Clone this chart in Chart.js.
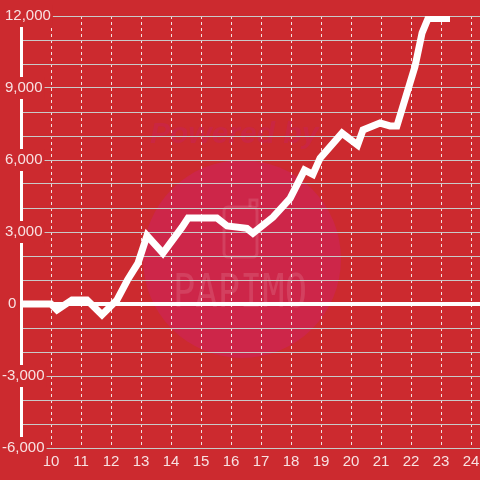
<!DOCTYPE html>
<html>
<head>
<meta charset="utf-8">
<script src="https://cdn.jsdelivr.net/npm/chart.js@4/dist/chart.umd.min.js"></script>
<style>
html,body{margin:0;padding:0;background:#cc2a2f;}
#wrap{width:480px;height:480px;}
</style>
</head>
<body>
<div id="wrap"><canvas id="c" width="480" height="480"></canvas></div>
<script>
// Data
const hours  = [9, 10, 10.2, 10.7, 11.2, 11.7, 12.2, 12.55, 12.9, 13.2, 13.73, 14.37, 14.57, 15.53, 15.87, 16.53, 16.73, 17.4, 17.97, 18.45, 18.73, 18.97, 19.7, 20.22, 20.4, 20.97, 21.3, 21.53, 22.13, 22.37, 22.57, 23.3];
const profit = [0, 0, -250, 170, 170, -450, 170, 1000, 1700, 2850, 2120, 3200, 3580, 3580, 3250, 3150, 2950, 3620, 4400, 5580, 5400, 6080, 7120, 6620, 7250, 7540, 7420, 7420, 9880, 11300, 11900, 11900];
const xTicks = [10, 11, 12, 13, 14, 15, 16, 17, 18, 19, 20, 21, 22, 23, 24];
const yLabelStep = 3000;

const BG = '#cc2a2f';
const LABEL = 'rgba(255,255,255,0.86)';
const FONT = '"Liberation Sans", Arial, sans-serif';

const bgPlugin = {
  id: 'bg',
  beforeDraw(chart) {
    const ctx = chart.ctx;
    ctx.save();
    ctx.fillStyle = BG;
    ctx.fillRect(0, 0, chart.width, chart.height);
    // watermark
    ctx.fillStyle = 'rgba(205,38,78,0.85)';
    ctx.beginPath();
    ctx.arc(242, 259, 99, 0, Math.PI * 2);
    ctx.fill();
    ctx.font = 'italic bold 30px ' + FONT;
    ctx.fillStyle = 'rgba(200,36,80,0.6)';
    ctx.textBaseline = 'alphabetic';
    ctx.fillText('Powered by', 150, 143);
    ctx.strokeStyle = 'rgba(255,255,255,0.12)';
    ctx.lineWidth = 3;
    ctx.beginPath();
    ctx.roundRect(224, 207, 33, 50, 4);
    ctx.stroke();
    ctx.beginPath();
    ctx.moveTo(250, 207); ctx.lineTo(250, 200); ctx.lineTo(257, 200); ctx.lineTo(257, 207);
    ctx.stroke();
    ctx.font = '46px "DejaVu Sans Mono", monospace';
    ctx.fillStyle = 'rgba(255,255,255,0.12)';
    ctx.fillText('PAPIMO', 173, 307, 134);
    ctx.restore();
  }
};

function fmtY(v) {
  if (v % yLabelStep !== 0) return '';
  const s = Math.abs(v).toLocaleString('en-US');
  if (v < 0) return '-' + s;
  if (v === 0) return '\u2009\u20090';
  return '\u2009' + s;
}

new Chart(document.getElementById('c'), {
  type: 'line',
  data: {
    datasets: [{
      data: hours.map((h, i) => ({ x: h, y: profit[i] })),
      borderColor: '#ffffff',
      borderWidth: 7,
      pointRadius: 0,
      tension: 0,
      fill: false,
      borderCapStyle: 'butt',
      borderJoinStyle: 'miter'
    }]
  },
  options: {
    responsive: false,
    animation: false,
    devicePixelRatio: 1,
    layout: { padding: { top: 16, left: 2, right: 0, bottom: 0 } },
    plugins: { legend: { display: false }, tooltip: { enabled: false } },
    scales: {
      x: {
        type: 'linear',
        min: 9,
        max: 24.3,
        afterBuildTicks(scale) { scale.ticks = xTicks.map(v => ({ value: v })); },
        afterFit(scale) { scale.height = 32; scale.paddingLeft = 0; scale.paddingRight = 0; },
        ticks: {
          color: LABEL,
          font: { family: FONT, size: 15 },
          padding: 5,
          maxRotation: 0,
          autoSkip: false,
          callback: v => String(v)
        },
        grid: { color: 'rgba(245,245,245,0.9)', lineWidth: 1, drawTicks: false },
        border: { display: false, dash: [3, 3] }
      },
      y: {
        type: 'linear',
        min: -6000,
        max: 12000,
        afterFit(scale) { scale.width = 19; scale.paddingTop = 0; scale.paddingBottom = 0; },
        ticks: {
          stepSize: 1000,
          color: LABEL,
          font: { family: FONT, size: 15 },
          mirror: true,
          crossAlign: 'near',
          padding: -19,
          autoSkip: false,
          callback: v => fmtY(v),
          showLabelBackdrop: true,
          backdropColor: ctx => (ctx.tick && ctx.tick.value % yLabelStep === 0) ? BG : 'rgba(0,0,0,0)',
          backdropPadding: 2
        },
        grid: {
          color: ctx => (ctx.tick && ctx.tick.value === 0) ? '#ffffff' : '#c9c9c9',
          lineWidth: ctx => (ctx.tick && ctx.tick.value === 0) ? 4 : 1,
          drawTicks: false
        },
        border: { display: true, color: '#ffffff', width: 3 }
      }
    }
  },
  plugins: [bgPlugin]
});
</script>
</body>
</html>
